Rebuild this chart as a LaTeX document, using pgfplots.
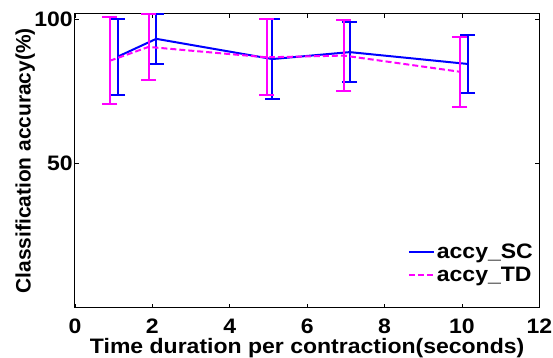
\documentclass[border=0pt]{standalone}
\usepackage{fontspec}
\setmainfont{Liberation Sans}[FakeStretch=1.1]
\newfontfamily\ylfont{Liberation Sans}
\usepackage{pgfplots}
\pgfplotsset{compat=1.18}
\definecolor{mblue}{RGB}{0,0,255}
\definecolor{mmag}{RGB}{255,0,255}
\begin{document}
\begin{tikzpicture}
\path[use as bounding box] (-75bp,-50.3bp) rectangle (478bp,307.7bp);
\begin{axis}[
  at={(0,0)}, anchor=south west,
  scale only axis, width=464.3bp, height=293.7bp,
  xmin=0, xmax=12, ymin=0, ymax=101.7,
  xtick={0,2,4,6,8,10,12}, ytick={50,100},
  tick align=inside, major tick length=4bp,
  tick style={black, line width=0.8bp},
  axis line style={black, line width=1bp},
  /pgf/number format/assume math mode=true,
  tick label style={font=\fontsize{21}{24}\selectfont\bfseries},
  xticklabel style={anchor=base, yshift=-26bp},
  yticklabel style={inner sep=2bp},
  xlabel={Time duration per contraction(seconds)},
  ylabel={Classification accuracy(\%)},
  xlabel style={font=\fontsize{21}{24}\selectfont\bfseries,
    at={(axis description cs:0.5,0)}, anchor=base, yshift=-46bp},
  ylabel style={font=\fontsize{21}{24}\selectfont\ylfont\bfseries, yshift=-6bp},
  legend style={draw=none, fill=none, at={(0.993,0.072)}, anchor=south east,
    font=\fontsize{21}{24}\selectfont\bfseries, row sep=3bp, inner sep=1bp},
  legend cell align=left,
  legend image code/.code={\draw[#1, line width=2bp] (0bp,0bp) -- (25bp,0bp);},
  clip=false,
]
\addplot[color=mblue, line width=2bp,
  error bars/y dir=both, error bars/y explicit,
  error bars/error bar style={solid, line width=2bp},
  error bars/error mark options={rotate=90, solid, mark size=7.5bp, line width=2bp}]
  table[x=x, y=y, y error=e] {
x y e
1.1 86.9 13.1
2.1 93.1 8.6
5.1 86.1 14.0
7.1 88.5 10.5
10.15 84.4 10.2
};
\addlegendentry{accy\_SC}
\addplot[color=mmag, line width=2bp, dash pattern=on 6bp off 3bp,
  error bars/y dir=both, error bars/y explicit,
  error bars/error bar style={solid, line width=2bp},
  error bars/error mark options={rotate=90, solid, mark size=7.5bp, line width=2bp}]
  table[x=x, y=y, y error=e] {
x y e
0.9 85.5 15.0
1.9 90.3 11.4
4.95 86.7 13.2
6.95 87.3 12.2
9.95 81.7 12.2
};
\addlegendentry{accy\_TD}
\end{axis}
\end{tikzpicture}
\end{document}
